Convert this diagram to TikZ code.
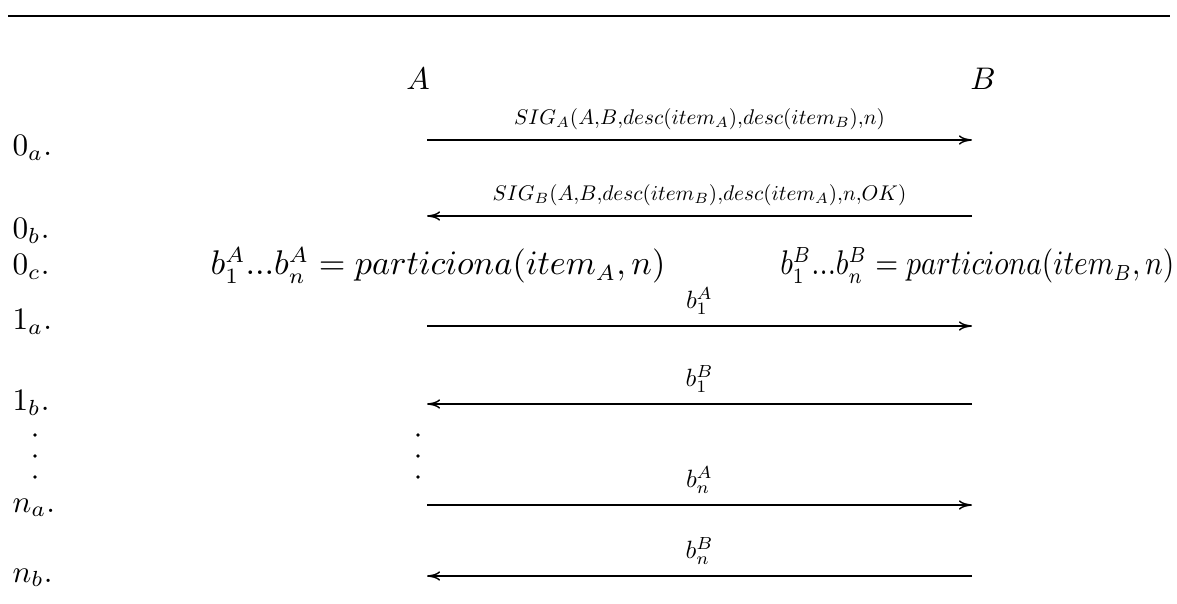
\documentclass[tikz,border=0pt]{standalone}
\usetikzlibrary{arrows.meta}
\begin{document}
\begin{tikzpicture}[x=0.32pt,y=-0.32pt,
  msg/.style={-{To[length=4.2pt,width=3pt]},line width=0.45pt},
  siglbl/.style={inner sep=0pt,above=3pt},
  blbl/.style={inner sep=0pt,above=3.5pt},
  rowlbl/.style={anchor=base west,inner sep=0pt},
  party/.style={anchor=base,inner sep=0pt},
  formula/.style={inner sep=0pt,font=\fontsize{10.5}{12.5}\selectfont},
  vdot/.style={circle,fill,inner sep=0pt,minimum size=1.15pt}]
\useasboundingbox (0,0) rectangle (1177,604);
% top rule
\coordinate (ruleL) at (8,16);
\coordinate (ruleR) at (1170,16);
\draw[line width=0.6pt] (ruleL) -- (ruleR);
% parties
\node[party] (A) at (418,90) {$A$};
\node[party] (B) at (983,90) {$B$};
% row labels
\node[rowlbl] (r0a) at (12,156) {$0_a.$};
\node[rowlbl] (r0b) at (12,239) {$0_b.$};
\node[rowlbl] (r0c) at (12,275) {$0_c.$};
\node[rowlbl] (r1a) at (12,330) {$1_a.$};
\node[rowlbl] (r1b) at (12,411) {$1_b.$};
\node[rowlbl] (rna) at (12,512) {$n_a.$};
\node[rowlbl] (rnb) at (12,582) {$n_b.$};
% dots
\foreach \y [count=\i] in {435,456,477}{
  \node[vdot] (ldot\i) at (35,\y) {};
  \node[vdot] (mdot\i) at (418,\y) {};
}
% formulas
\node[formula,anchor=base] (fA) at (438,275) {$b_1^A...b_n^A = particiona(item_A, n)$};
\node[formula,anchor=base east] (fB) at (1175,275) {\scalebox{0.86}[1]{$b_1^B...b_n^B = particiona(item_B, n)$}};
% arrow end points
\foreach \n/\y in {0a/140,0b/216,1a/326,1b/404,na/505,nb/576}{
  \coordinate (L\n) at (427,\y);
  \coordinate (R\n) at (972,\y);
}
\draw[msg] (L0a) -- node[siglbl] (m0a) {\scalebox{0.68}{$SIG_A(A{,}B{,}desc(item_A){,}desc(item_B){,}n)$}} (R0a);
\draw[msg] (R0b) -- node[siglbl] (m0b) {\scalebox{0.68}{$SIG_B(A{,}B{,}desc(item_B){,}desc(item_A){,}n{,}OK)$}} (L0b);
\draw[msg] (L1a) -- node[blbl] (m1a) {\scalebox{0.8}{$b_1^A$}} (R1a);
\draw[msg] (R1b) -- node[blbl] (m1b) {\scalebox{0.8}{$b_1^B$}} (L1b);
\draw[msg] (Lna) -- node[blbl] (mna) {\scalebox{0.8}{$b_n^A$}} (Rna);
\draw[msg] (Rnb) -- node[blbl] (mnb) {\scalebox{0.8}{$b_n^B$}} (Lnb);
\end{tikzpicture}
\end{document}
